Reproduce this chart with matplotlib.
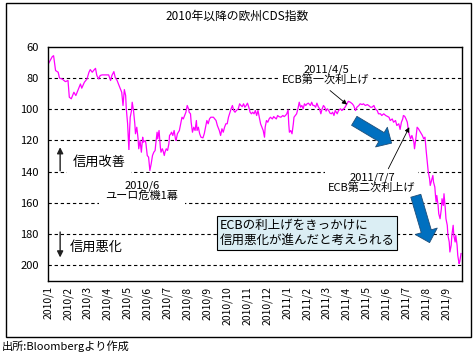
import matplotlib
matplotlib.use("Agg")
import matplotlib.pyplot as plt
import matplotlib.dates as mdates
from matplotlib.patches import Rectangle, FancyArrowPatch, ArrowStyle
import pandas as pd

plt.rcParams['font.family'] = ['Noto Sans CJK JP', 'DejaVu Sans']

# European CDS index
dates = [
    "2010-01-01", "2010-01-07", "2010-01-09", "2010-01-12", "2010-01-16", "2010-01-18",
    "2010-01-22", "2010-01-27", "2010-01-31", "2010-02-02", "2010-02-05", "2010-02-09",
    "2010-02-12", "2010-02-16", "2010-02-19", "2010-02-21", "2010-02-25", "2010-03-01",
    "2010-03-04", "2010-03-06", "2010-03-09", "2010-03-11", "2010-03-14", "2010-03-16",
    "2010-03-19", "2010-03-21", "2010-03-24", "2010-03-29", "2010-04-03", "2010-04-06",
    "2010-04-08", "2010-04-11", "2010-04-13", "2010-04-16", "2010-04-18", "2010-04-21",
    "2010-04-23", "2010-04-25", "2010-04-27", "2010-04-29", "2010-04-30", "2010-05-02",
    "2010-05-04", "2010-05-05", "2010-05-06", "2010-05-08", "2010-05-09", "2010-05-11",
    "2010-05-13", "2010-05-14", "2010-05-16", "2010-05-18", "2010-05-19", "2010-05-21",
    "2010-05-23", "2010-05-25", "2010-05-26", "2010-05-29", "2010-05-30", "2010-06-01",
    "2010-06-03", "2010-06-05", "2010-06-07", "2010-06-09", "2010-06-11", "2010-06-13",
    "2010-06-14", "2010-06-16", "2010-06-17", "2010-06-19", "2010-06-21", "2010-06-22",
    "2010-06-24", "2010-06-25", "2010-06-27", "2010-06-28", "2010-06-30", "2010-07-02",
    "2010-07-04", "2010-07-05", "2010-07-07", "2010-07-08", "2010-07-10", "2010-07-12",
    "2010-07-14", "2010-07-15", "2010-07-17", "2010-07-20", "2010-07-22", "2010-07-24",
    "2010-07-26", "2010-07-28", "2010-07-30", "2010-08-01", "2010-08-03", "2010-08-04",
    "2010-08-06", "2010-08-07", "2010-08-09", "2010-08-11", "2010-08-13", "2010-08-15",
    "2010-08-16", "2010-08-18", "2010-08-20", "2010-08-22", "2010-08-25", "2010-08-27",
    "2010-08-29", "2010-08-31", "2010-09-02", "2010-09-04", "2010-09-06", "2010-09-10",
    "2010-09-14", "2010-09-16", "2010-09-19", "2010-09-21", "2010-09-23", "2010-09-25",
    "2010-09-27", "2010-09-29", "2010-10-01", "2010-10-03", "2010-10-05", "2010-10-07",
    "2010-10-09", "2010-10-11", "2010-10-13", "2010-10-15", "2010-10-18", "2010-10-20",
    "2010-10-22", "2010-10-24", "2010-10-26", "2010-10-28", "2010-10-30", "2010-11-01",
    "2010-11-03", "2010-11-05", "2010-11-07", "2010-11-09", "2010-11-11", "2010-11-13",
    "2010-11-15", "2010-11-17", "2010-11-19", "2010-11-21", "2010-11-23", "2010-11-25",
    "2010-11-27", "2010-11-28", "2010-11-30", "2010-12-02", "2010-12-04", "2010-12-06",
    "2010-12-09", "2010-12-11", "2010-12-12", "2010-12-15", "2010-12-17", "2010-12-19",
    "2010-12-22", "2010-12-25", "2010-12-27", "2010-12-29", "2010-12-31", "2011-01-02",
    "2011-01-03", "2011-01-04", "2011-01-06", "2011-01-08", "2011-01-10", "2011-01-11",
    "2011-01-13", "2011-01-15", "2011-01-17", "2011-01-19", "2011-01-21", "2011-01-23",
    "2011-01-25", "2011-01-27", "2011-01-29", "2011-01-31", "2011-02-02", "2011-02-05",
    "2011-02-07", "2011-02-09", "2011-02-11", "2011-02-13", "2011-02-15", "2011-02-17",
    "2011-02-19", "2011-02-21", "2011-02-23", "2011-02-25", "2011-02-27", "2011-03-01",
    "2011-03-03", "2011-03-05", "2011-03-07", "2011-03-09", "2011-03-11", "2011-03-13",
    "2011-03-15", "2011-03-18", "2011-03-20", "2011-03-23", "2011-03-25", "2011-03-28",
    "2011-03-30", "2011-04-02", "2011-04-04", "2011-04-07", "2011-04-10", "2011-04-12",
    "2011-04-15", "2011-04-17", "2011-04-20", "2011-04-22", "2011-04-25", "2011-04-27",
    "2011-04-30", "2011-05-03", "2011-05-05", "2011-05-08", "2011-05-10", "2011-05-13",
    "2011-05-15", "2011-05-18", "2011-05-20", "2011-05-23", "2011-05-25", "2011-05-28",
    "2011-05-31", "2011-06-05", "2011-06-07", "2011-06-10", "2011-06-12", "2011-06-15",
    "2011-06-17", "2011-06-20", "2011-06-22", "2011-06-24", "2011-06-26", "2011-06-27",
    "2011-06-29", "2011-07-01", "2011-07-03", "2011-07-05", "2011-07-08", "2011-07-10",
    "2011-07-13", "2011-07-14", "2011-07-16", "2011-07-18", "2011-07-20", "2011-07-23",
    "2011-07-26", "2011-07-28", "2011-07-30", "2011-08-01", "2011-08-03", "2011-08-04",
    "2011-08-06", "2011-08-07", "2011-08-09", "2011-08-11", "2011-08-12", "2011-08-14",
    "2011-08-15", "2011-08-16", "2011-08-17", "2011-08-19", "2011-08-20", "2011-08-22",
    "2011-08-24", "2011-08-25", "2011-08-27", "2011-08-28", "2011-08-30", "2011-08-31",
    "2011-09-02", "2011-09-03", "2011-09-05", "2011-09-06", "2011-09-08", "2011-09-09",
    "2011-09-11", "2011-09-12", "2011-09-14", "2011-09-15", "2011-09-17", "2011-09-18",
    "2011-09-20", "2011-09-21", "2011-09-23",
]
cds = [
    71.0, 66.4, 65.8, 75.3, 76.4, 80.2,
    80.7, 82.4, 81.7, 92.4, 93.4, 89.2,
    91.3, 87.0, 83.9, 86.6, 82.8, 80.7,
    76.4, 74.7, 76.4, 75.3, 73.9, 78.5,
    80.7, 78.5, 78.1, 78.1, 78.1, 81.7,
    78.5, 76.0, 79.6, 81.7, 83.9, 87.0,
    89.2, 97.7, 87.5, 91.3, 99.8, 109.4,
    126.5, 113.7, 105.2, 100.9, 95.6, 100.9,
    109.4, 115.8, 111.6, 119.0, 125.4, 120.1,
    127.6, 118.0, 121.2, 120.1, 122.2, 129.7,
    130.8, 139.3, 135.0, 129.7, 127.6, 126.5,
    122.2, 114.8, 119.0, 113.7, 124.4, 127.6,
    125.4, 126.5, 129.7, 127.6, 125.4, 126.5,
    122.2, 116.9, 115.8, 114.8, 116.9, 113.7,
    119.0, 120.1, 115.8, 113.7, 109.4, 105.2,
    106.3, 104.1, 102.0, 97.7, 99.8, 102.0,
    103.0, 108.4, 114.8, 111.6, 113.7, 107.3,
    113.7, 111.6, 115.8, 118.0, 118.4, 115.8,
    111.6, 107.3, 109.4, 106.3, 105.2, 105.2,
    107.3, 110.5, 113.7, 116.9, 112.6, 114.8,
    111.6, 109.4, 109.4, 105.2, 102.6, 99.8,
    97.7, 100.9, 102.0, 100.9, 99.8, 96.6,
    97.7, 98.4, 96.6, 98.8, 97.7, 96.2,
    98.8, 102.0, 103.0, 102.0, 103.0, 100.9,
    104.1, 100.9, 105.2, 109.4, 111.6, 113.7,
    118.0, 111.6, 107.3, 108.4, 106.3, 105.2,
    106.3, 104.8, 105.2, 106.3, 104.1, 104.8,
    105.2, 104.1, 104.8, 104.1, 103.0, 100.5,
    109.4, 114.8, 113.7, 115.8, 109.4, 105.2,
    104.1, 103.0, 99.8, 95.6, 98.8, 97.7,
    99.8, 96.6, 97.7, 96.6, 96.2, 97.7,
    95.6, 97.7, 97.7, 98.8, 96.2, 98.4,
    99.8, 103.0, 99.8, 97.7, 98.8, 101.3,
    99.8, 100.9, 102.6, 103.0, 102.0, 104.1,
    100.9, 103.0, 100.9, 99.8, 100.9, 99.8,
    98.8, 96.6, 95.0, 95.6, 96.6, 97.7,
    100.9, 98.8, 97.7, 96.6, 97.1, 96.6,
    97.7, 97.1, 97.7, 98.8, 98.8, 97.7,
    99.8, 100.9, 103.0, 103.0, 104.1, 103.0,
    104.1, 105.2, 107.3, 106.3, 108.4, 107.3,
    110.5, 109.4, 113.0, 108.4, 106.3, 104.1,
    104.6, 106.3, 108.4, 114.8, 119.0, 116.9,
    121.2, 125.4, 119.0, 111.6, 112.6, 114.8,
    116.9, 119.0, 118.0, 127.6, 136.1, 140.3,
    144.6, 148.9, 145.7, 142.5, 146.7, 149.9,
    155.3, 159.5, 155.3, 161.7, 167.0, 170.2,
    163.8, 157.4, 161.7, 154.2, 163.8, 170.2,
    174.4, 180.8, 185.1, 191.5, 187.2, 180.8,
    174.4, 180.8, 185.1, 180.8, 187.2, 193.6,
    198.9, 197.9, 192.5,
]

tick_dates = pd.date_range("2010-01-01", "2011-09-01", freq="MS")
tick_labels = [f"{d.year}/{d.month}" for d in tick_dates]
y_ticks = [60, 80, 100, 120, 140, 160, 180, 200]

T = pd.Timestamp

fig = plt.figure(figsize=(4.74, 3.56), dpi=100)
ax = fig.add_axes([0.102, 0.211, 0.872, 0.658])

ax.plot(pd.to_datetime(dates), cds, color="#FF00FF", lw=0.9, zorder=2)
ax.set_xlim(T("2010-01-01"), T("2011-09-24"))
ax.set_ylim(210, 60)
ax.set_yticks(y_ticks)
ax.set_xticks(tick_dates)
ax.set_xticklabels(tick_labels, rotation=90, fontsize=7.5)
ax.tick_params(length=0)
ax.tick_params(axis="y", pad=7, labelsize=8)
ax.tick_params(axis="x", pad=4)
for s in ax.spines.values():
    s.set_linewidth(1.0)
for y in y_ticks[1:]:
    ax.axhline(y, color="black", lw=0.8, ls=(0, (3, 2.5)), zorder=1)

# text annotations
wbox = dict(fc="white", ec="none", pad=2)
ax.text(T("2011-03-01"), 78.5, "2011/4/5\nECB第一次利上げ", ha="center", va="center",
        fontsize=8, linespacing=0.95, bbox=wbox, zorder=3)
ax.text(T("2011-05-10"), 147.2, "2011/7/7\nECB第二次利上げ", ha="center", va="center",
        fontsize=8, linespacing=0.95, bbox=wbox, zorder=3)
ax.text(T("2010-05-24"), 152.4, "2010/6\nユーロ危機1幕", ha="center", va="center",
        fontsize=8, linespacing=0.95, bbox=dict(fc="white", ec="none", pad=5), zorder=3)
ax.text(T("2010-03-19"), 134, "信用改善", ha="center", va="center", fontsize=9.5,
        bbox=dict(fc="white", ec="none", pad=4), zorder=3)
ax.text(T("2010-03-15"), 188.3, "信用悪化", ha="center", va="center", fontsize=9.5, zorder=3)
ax.text(T("2010-09-19"), 179.5, "ECBの利上げをきっかけに\n信用悪化が進んだと考えられる",
        ha="left", va="center", fontsize=9, linespacing=1.25,
        bbox=dict(fc="#DBEEF4", ec="black", lw=0.8, pad=2), zorder=4)

thin = dict(arrowstyle="-|>", color="black", lw=0.6, mutation_scale=7, shrinkA=0, shrinkB=0)
ax.annotate("", xy=(T("2011-04-02"), 97.1), xytext=(T("2011-03-07"), 88.1), arrowprops=thin)
ax.annotate("", xy=(T("2011-07-06"), 111.6), xytext=(T("2011-06-04"), 138.2), arrowprops=thin)
thick = dict(arrowstyle="-|>", color="#202020", lw=1.0, mutation_scale=9, shrinkA=0, shrinkB=0)
ax.annotate("", xy=(T("2010-01-19"), 124.4), xytext=(T("2010-01-19"), 139.5), arrowprops=thick)
ax.annotate("", xy=(T("2010-01-19"), 195.0), xytext=(T("2010-01-19"), 178.7), arrowprops=thick)

# big blue arrows
blue = ArrowStyle.Simple(head_length=0.85, head_width=1.65, tail_width=0.75)
for tail, tip in [((T("2011-04-13"), 107.5), (T("2011-06-09"), 121.8)),
                  ((T("2011-07-16"), 155.5), (T("2011-08-06"), 185.5))]:
    a = FancyArrowPatch((mdates.date2num(tail[0]), tail[1]), (mdates.date2num(tip[0]), tip[1]),
                        arrowstyle=blue, mutation_scale=10, fc="#0070C0", ec="#1F4E79",
                        lw=0.6, shrinkA=0, shrinkB=0, zorder=5)
    ax.add_patch(a)

fig.text(0.5, 1 - 16 / 356, "2010年以降の欧州CDS指数", ha="center", va="center", fontsize=8.5)
fig.patches.append(Rectangle((6 / 474, 1 - 337 / 356), 465 / 474, 334 / 356,
                             transform=fig.transFigure, fill=False, lw=1, ec="black"))
fig.text(2 / 474, 1 - 346 / 356, "出所:Bloombergより作成", ha="left", va="center", fontsize=8)

fig.savefig("out.png", dpi=100)
